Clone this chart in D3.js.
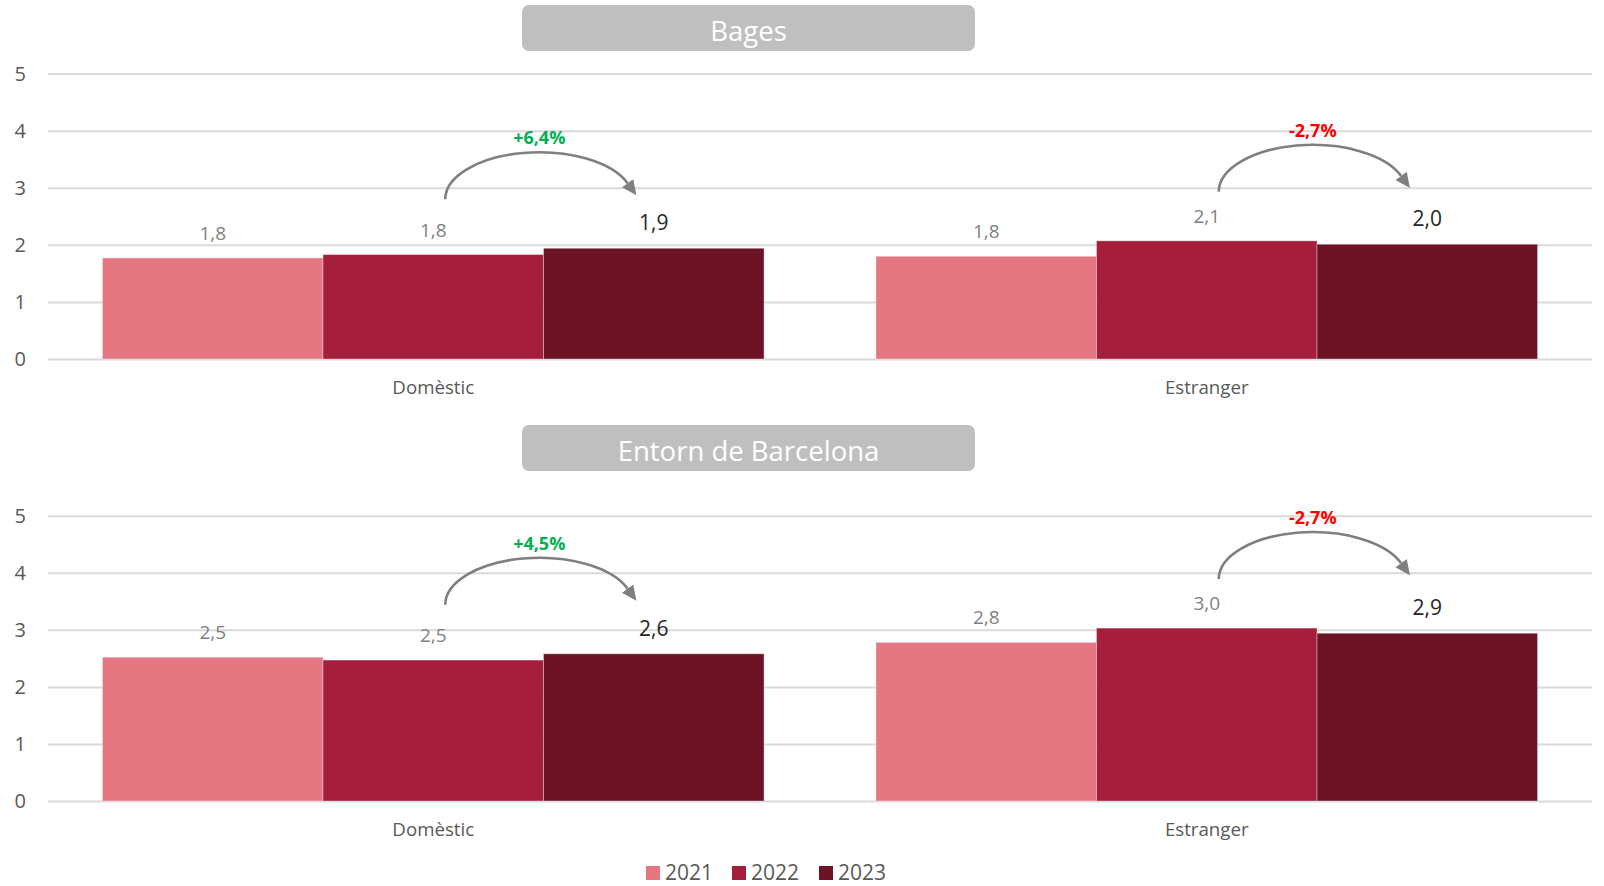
<!DOCTYPE html>
<html>
<head>
<meta charset="utf-8">
<script src="https://cdn.jsdelivr.net/npm/d3@7"></script>
<style>
  html, body { margin: 0; padding: 0; background: #ffffff; }
  svg { display: block; font-family: "Open Sans", "Noto Sans", sans-serif; }
</style>
</head>
<body>
<svg id="chart" width="1604" height="886"></svg>
<script>
// ---- Data ----
const categories = ["Domèstic", "Estranger"];
const years = ["2021", "2022", "2023"];
const yTicks = [0, 1, 2, 3, 4, 5];

const bages2021 = [1.77, 1.80];
const bages2022 = [1.83, 2.07];
const bages2023 = [1.94, 2.01];
const bagesChange = ["+6,4%", "-2,7%"];

const entorn2021 = [2.52, 2.78];
const entorn2022 = [2.47, 3.03];
const entorn2023 = [2.58, 2.94];
const entornChange = ["+4,5%", "-2,7%"];

const panelTitles = ["Bages", "Entorn de Barcelona"];

// ---- Styles ----
const colors = ["#e47782", "#a51e3c", "#6c1426"];
const changeColor = v => v.startsWith("-") ? "#ff0000" : "#00b050";
const fmt = v => d3.format(".1f")(v).replace(".", ",");

const svg = d3.select("#chart");

const defs = svg.append("defs");
defs.append("marker")
  .attr("id", "arrowhead")
  .attr("viewBox", "0 -8 16 16")
  .attr("refX", 0).attr("refY", 0)
  .attr("markerUnits", "userSpaceOnUse")
  .attr("markerWidth", 16).attr("markerHeight", 16)
  .attr("orient", "auto")
  .append("path")
  .attr("d", "M0,-7 L15,0 L0,7 Z")
  .attr("fill", "#7f7f7f");

const xLeft = 48, xRight = 1592;

const x0 = d3.scaleBand()
  .domain(categories)
  .range([xLeft, xRight])
  .paddingInner(0.1447)
  .paddingOuter(0.0704);

const x1 = d3.scaleBand()
  .domain(years)
  .range([0, x0.bandwidth()])
  .padding(0);

const panels = [
  { title: panelTitles[0], series: [bages2021, bages2022, bages2023], change: bagesChange,
    yZero: 359, yFive: 73.6, boxY: 5 },
  { title: panelTitles[1], series: [entorn2021, entorn2022, entorn2023], change: entornChange,
    yZero: 801, yFive: 515.7, boxY: 425 }
];

panels.forEach(p => {
  const g = svg.append("g");
  const y = d3.scaleLinear().domain([0, 5]).range([p.yZero, p.yFive]);

  // title box
  g.append("rect")
    .attr("x", 522).attr("y", p.boxY)
    .attr("width", 453).attr("height", 46)
    .attr("rx", 7).attr("ry", 7)
    .attr("fill", "#bfbfbf");
  g.append("text")
    .attr("x", 748.5).attr("y", p.boxY + 36)
    .attr("text-anchor", "middle")
    .attr("fill", "#ffffff")
    .attr("font-size", 27.5)
    .text(p.title);

  // y axis with gridlines
  const yAxis = d3.axisLeft(y)
    .tickValues(yTicks)
    .tickFormat(d3.format("d"))
    .tickSize(-(xRight - xLeft))
    .tickPadding(22);
  const ya = g.append("g")
    .attr("transform", `translate(${xLeft},0)`)
    .call(yAxis);
  ya.select(".domain").remove();
  ya.selectAll(".tick line").attr("stroke", "#d9d9d9").attr("stroke-width", 2);
  ya.selectAll(".tick text")
    .attr("fill", "#595959")
    .attr("font-size", 20)
    .attr("font-family", "Open Sans, sans-serif");

  // x axis (category labels)
  const xAxis = d3.axisBottom(x0).tickSize(0).tickPadding(0);
  const xa = g.append("g")
    .attr("transform", `translate(0,${p.yZero})`)
    .call(xAxis);
  xa.select(".domain").remove();
  xa.selectAll(".tick text")
    .attr("y", 35).attr("dy", 0)
    .attr("fill", "#595959")
    .attr("font-size", 18.7)
    .attr("font-family", "Open Sans, sans-serif");

  // bars
  const rows = categories.map((c, i) => ({
    cat: c,
    vals: years.map((yr, j) => ({ year: yr, j, v: p.series[j][i] }))
  }));

  const grp = g.selectAll(".grp").data(rows).join("g")
    .attr("transform", d => `translate(${x0(d.cat)},0)`);

  grp.selectAll("rect").data(d => d.vals).join("rect")
    .attr("x", d => x1(d.year))
    .attr("y", d => y(d.v))
    .attr("width", x1.bandwidth())
    .attr("height", d => y(0) - y(d.v))
    .attr("fill", d => colors[d.j])
    .attr("stroke", "rgba(255,255,255,0.35)")
    .attr("stroke-width", 1);

  grp.selectAll("text.val").data(d => d.vals).join("text")
    .attr("class", "val")
    .attr("x", d => x1(d.year) + x1.bandwidth() / 2)
    .attr("y", d => y(d.v) - 18)
    .attr("text-anchor", "middle")
    .attr("fill", d => d.j === 2 ? "#262626" : "#7f7f7f")
    .attr("font-size", d => d.j === 2 ? 21 : 19)
    .text(d => fmt(d.v));

  // change arrows
  rows.forEach((r, i) => {
    const v22 = r.vals[1].v, v23 = r.vals[2].v;
    const sx = x0(r.cat) + x1("2022") + x1.bandwidth() / 2 + 12;
    const sy = y(Math.max(v22, v23)) - 49;
    const rx = 94, ry = 47;
    const cx = sx + rx, cy = sy;
    const ang = 20 * Math.PI / 180;
    const ex = cx + rx * Math.cos(ang), ey = cy - ry * Math.sin(ang);
    g.append("path")
      .attr("d", `M${sx},${sy} A${rx},${ry} 0 0 1 ${ex},${ey}`)
      .attr("fill", "none")
      .attr("stroke", "#7f7f7f")
      .attr("stroke-width", 2.6)
      .attr("marker-end", "url(#arrowhead)");
    g.append("text")
      .attr("x", cx)
      .attr("y", cy - ry - 8)
      .attr("text-anchor", "middle")
      .attr("font-weight", "bold")
      .attr("font-size", 18)
      .attr("fill", changeColor(p.change[i]))
      .text(p.change[i]);
  });
});

// legend
const legendX = [646, 732, 819];
const lg = svg.append("g");
years.forEach((yr, j) => {
  lg.append("rect")
    .attr("x", legendX[j]).attr("y", 866)
    .attr("width", 14).attr("height", 14)
    .attr("fill", colors[j]);
  lg.append("text")
    .attr("x", legendX[j] + 19).attr("y", 879.5)
    .attr("fill", "#595959")
    .attr("font-size", 21)
    .text(yr);
});
</script>
</body>
</html>
